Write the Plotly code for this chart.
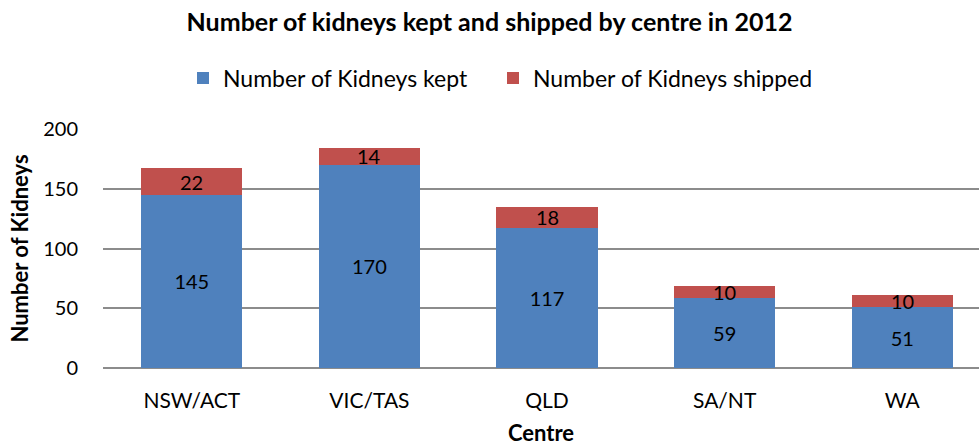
import plotly.graph_objects as go

centres = ["NSW/ACT", "VIC/TAS", "QLD", "SA/NT", "WA"]
kept = [145, 170, 117, 59, 51]
shipped = [22, 14, 18, 10, 10]

FONT = "Lato"

fig = go.Figure()
fig.add_trace(go.Bar(
    x=centres, y=kept, name="Number of Kidneys kept",
    marker=dict(color="#4F81BD", line=dict(width=0)),
    text=[str(v) for v in kept], textposition="inside", insidetextanchor="middle",
    textangle=0,
    textfont=dict(family=FONT, size=20, color="black"), width=0.57,
    legend="legend", showlegend=True,
))
fig.add_trace(go.Bar(
    x=centres, y=shipped, name="Number of Kidneys shipped",
    marker=dict(color="#C0504D", line=dict(width=0)),
    width=0.57,
    legend="legend2", showlegend=True,
))
# labels for the shipped segments, centred on each segment
for c, k, s in zip(centres, kept, shipped):
    fig.add_annotation(x=c, y=k + s / 2, text=str(s), showarrow=False,
                       font=dict(family=FONT, size=20, color="black"),
                       xanchor="center", yanchor="middle")

leg_common = dict(orientation="h", y=1.213, yanchor="middle", xanchor="left",
                  font=dict(family=FONT, size=23), itemwidth=30,
                  bgcolor="rgba(0,0,0,0)")

fig.update_layout(
    width=979, height=446,
    barmode="stack",
    showlegend=True,
    paper_bgcolor="white", plot_bgcolor="white",
    font=dict(family=FONT, size=20, color="black"),
    title=dict(text="<b>Number of kidneys kept and shipped by centre in 2012</b>",
               x=0.5, xanchor="center", y=0.95, yanchor="middle",
               font=dict(family=FONT, size=25, color="black")),
    legend=dict(x=(183 - 103) / 876, **leg_common),
    legend2=dict(x=(493 - 103) / 876, **leg_common),
    margin=dict(l=103, r=0, t=129, b=78, autoexpand=False),
    xaxis=dict(range=[-0.5, 4.432], showline=False, ticks="",
               tickfont=dict(family=FONT, size=21), ticklabelstandoff=18,
               title=dict(text="<b>Centre</b>", font=dict(family=FONT, size=22), standoff=16)),
    yaxis=dict(range=[0, 200], dtick=50, showgrid=True, gridcolor="#8c8c8c", gridwidth=2,
               zeroline=True, zerolinecolor="#8c8c8c", zerolinewidth=2,
               tickfont=dict(family=FONT, size=20), ticks="", ticklabelstandoff=24,
               title=dict(text="<b>Number of Kidneys</b>", font=dict(family=FONT, size=22), standoff=8)),
    bargap=0.43,
)

fig.write_html("out.html", config={"displayModeBar": False},
               post_script="document.body.style.margin='0';")
